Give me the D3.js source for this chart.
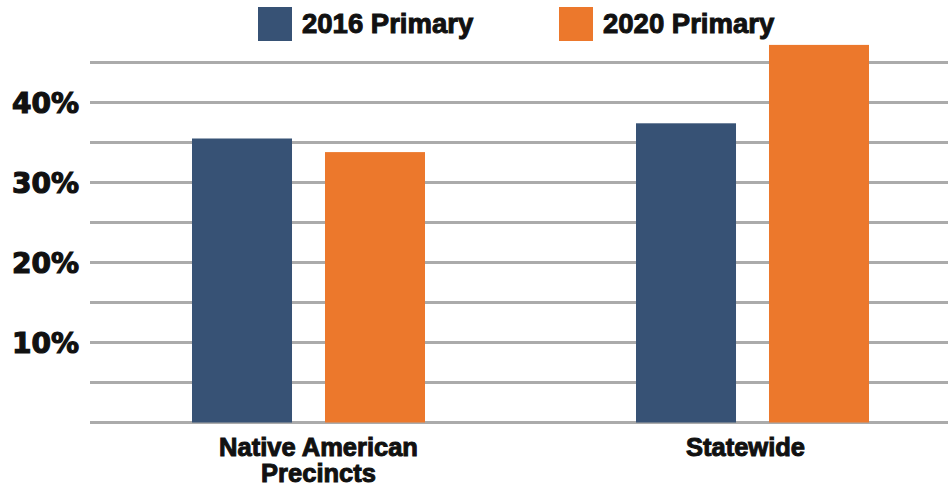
<!DOCTYPE html>
<html>
<head>
<meta charset="utf-8">
<script src="https://cdn.jsdelivr.net/npm/d3@7"></script>
<style>
  body { margin: 0; background: #fff; }
  svg { display: block; }
</style>
</head>
<body>
<div id="chart"></div>
<script>
// chart data
const categories = ['Native American Precincts', 'Statewide'];
const categoryLines = [['Native American', 'Precincts'], ['Statewide']];
const seriesNames = ['2016 Primary', '2020 Primary'];
const values2016 = [35.5, 37.4];
const values2020 = [33.8, 47.2];
const gridValues = [0, 5, 10, 15, 20, 25, 30, 35, 40, 45];
const tickLabels = [10, 20, 30, 40];

const colors = ['#375275', '#ec782c'];
const width = 948, height = 490;

const svg = d3.select('#chart').append('svg')
    .attr('width', width)
    .attr('height', height);

// y: 0 -> 422.5, 10% -> 80px
const y = d3.scaleLinear().domain([0, 45]).range([422.5, 62.5]);

// outer band scale reaches past the right edge (chart is cropped)
const x0 = d3.scaleBand().domain(categories).range([86.5, 974.5]).padding(0);
const x1 = d3.scaleBand().domain(seriesNames).range([0, 233]).paddingInner(0.248).paddingOuter(0);

// gridlines
svg.append('g').selectAll('line')
    .data(gridValues)
    .join('line')
    .attr('x1', 90)
    .attr('x2', width)
    .attr('y1', d => y(d))
    .attr('y2', d => y(d))
    .attr('stroke', '#ababab')
    .attr('stroke-width', 3);

// y tick labels
svg.append('g').selectAll('text')
    .data(tickLabels)
    .join('text')
    .attr('x', 79)
    .attr('y', d => y(d) + 10)
    .attr('text-anchor', 'end')
    .attr('font-family', 'DejaVu Sans')
    .attr('font-weight', 'bold')
    .attr('font-size', 28)
    .attr('fill', '#111')
    .attr('stroke', '#111')
    .attr('stroke-width', 1.2)
    .text(d => d + '%');

// bars
const rows = categories.map((c, i) => ({ cat: c, vals: [values2016[i], values2020[i]] }));
const groups = svg.append('g').selectAll('g')
    .data(rows)
    .join('g')
    .attr('transform', d => `translate(${x0(d.cat) + x0.bandwidth() / 2 - 116.5},0)`);

groups.selectAll('rect')
    .data(d => d.vals.map((v, i) => ({ key: seriesNames[i], value: v, i })))
    .join('rect')
    .attr('x', d => x1(d.key))
    .attr('width', x1.bandwidth())
    .attr('y', d => y(d.value))
    .attr('height', d => y(0) - y(d.value))
    .attr('fill', d => colors[d.i]);

// category labels
const catLabels = svg.append('g').selectAll('text')
    .data(categories)
    .join('text')
    .attr('text-anchor', 'middle')
    .attr('font-family', 'Liberation Sans, Arial, sans-serif')
    .attr('font-weight', 'bold')
    .attr('font-size', 25.5)
    .attr('fill', '#111')
    .attr('stroke', '#111')
    .attr('stroke-width', 1)
    .attr('transform', (d, i) => `translate(${x0(d) + x0.bandwidth() / 2 + (i === 0 ? 10 : -7)},456)`);

catLabels.selectAll('tspan')
    .data((d, i) => categoryLines[i])
    .join('tspan')
    .attr('x', 0)
    .attr('dy', (d, i) => i === 0 ? 0 : 25.5)
    .text(d => d);

// legend
const legendX = [258, 559];
const legend = svg.append('g').selectAll('g')
    .data(seriesNames)
    .join('g')
    .attr('transform', (d, i) => `translate(${legendX[i]},7)`);

legend.append('rect')
    .attr('width', 34)
    .attr('height', 34)
    .attr('fill', (d, i) => colors[i]);

legend.append('text')
    .attr('x', 44)
    .attr('y', 26)
    .attr('font-family', 'Liberation Sans, Arial, sans-serif')
    .attr('font-weight', 'bold')
    .attr('font-size', 27.5)
    .attr('fill', '#111')
    .attr('stroke', '#111')
    .attr('stroke-width', 1)
    .text(d => d);
</script>
</body>
</html>
